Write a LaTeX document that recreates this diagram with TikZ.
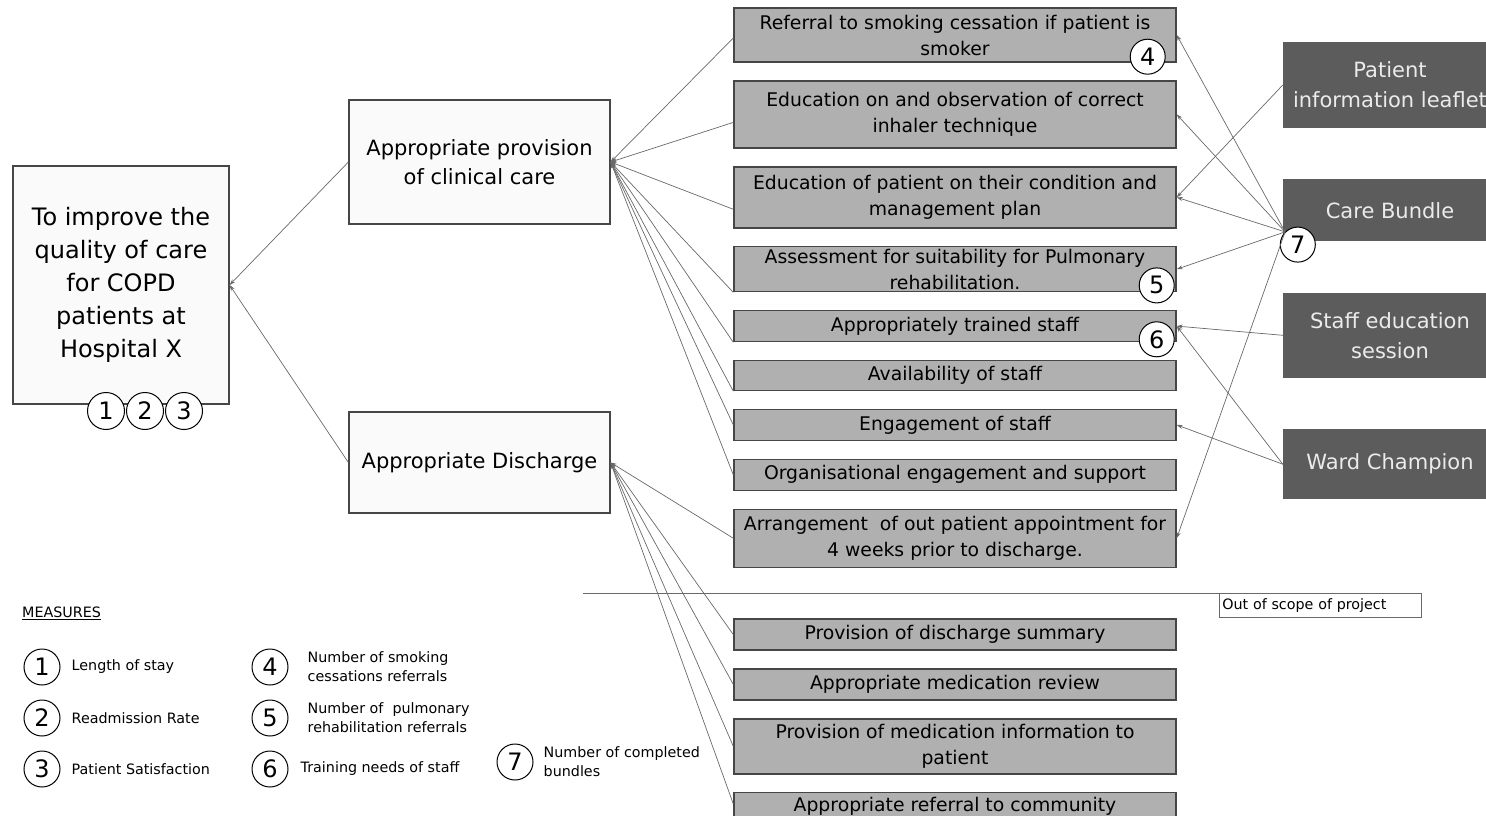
\documentclass[tikz,border=0pt]{standalone}
\usepackage{fontspec}
\setmainfont{DejaVu Sans}
\usetikzlibrary{arrows.meta,positioning}
\definecolor{boxgray}{RGB}{176,176,176}
\definecolor{darkbox}{RGB}{92,92,92}
\definecolor{edgegray}{RGB}{70,70,70}
\definecolor{linegray}{RGB}{105,105,105}
\definecolor{paper}{RGB}{250,250,250}

\begin{document}
\begin{tikzpicture}[x=1pt,y=-1pt,
        node distance=17.5pt,
        goalbox/.style={draw=edgegray,line width=1.2pt,fill=paper,align=center,inner sep=2pt},
        drvbox/.style={draw=edgegray,line width=1.2pt,fill=paper,minimum width=261pt,
                       align=center,font=\fontsize{21}{29}\selectfont},
        cbox/.style={draw=edgegray,line width=1.4pt,fill=boxgray,minimum width=442pt,
                     inner sep=0pt,align=center,font=\fontsize{18.8}{26}\selectfont},
        ibox/.style={fill=darkbox,text=white!92!black,minimum width=214pt,inner sep=0pt,
                     align=center,font=\fontsize{21}{30}\selectfont},
        num/.style={circle,draw=black,line width=1pt,fill=white,inner sep=0pt,
                    minimum size=35pt,font=\fontsize{24}{24}\selectfont},
        key/.style={inner sep=0pt,align=left,font=\fontsize{14.3}{19}\selectfont},
        arr/.style={-{Stealth[length=6pt,width=4pt]},draw=linegray,line width=0.7pt},
      ]
        \useasboundingbox (0,0) rectangle (1486,816);
        % aim and primary drivers
        \node[goalbox,minimum width=216pt,minimum height=238pt,
              font=\fontsize{24}{33}\selectfont](goal) at (121,285)
              {To improve the\\quality of care\\for COPD\\patients at\\Hospital X};
        \node[drvbox,minimum height=124pt](clin) at (479.5,162){Appropriate provision\\of clinical care};
        \node[drvbox,minimum height=101pt](dis) at (479.5,462.5){Appropriate Discharge};
        % secondary drivers
        \node[cbox,minimum height=54pt](ref) at (955,35){Referral to smoking cessation if patient is\\smoker};
        \node[cbox,minimum height=67pt,below=of ref](inh){Education on and observation of correct\\inhaler technique};
        \node[cbox,minimum height=61pt,below=of inh](pat){Education of patient on their condition and\\management plan};
        \node[cbox,minimum height=45pt,below=of pat](ass){Assessment for suitability for Pulmonary\\rehabilitation.};
        \node[cbox,minimum height=31pt,below=of ass](trn){Appropriately trained staff};
        \node[cbox,minimum height=30pt,below=of trn](avl){Availability of staff};
        \node[cbox,minimum height=31pt,below=of avl](eng){Engagement of staff};
        \node[cbox,minimum height=31pt,below=of eng](org){Organisational engagement and support};
        \node[cbox,minimum height=58pt,below=of org](appt){Arrangement\ \ of out patient appointment for\\4 weeks prior to discharge.};
        \node[cbox,minimum height=31pt](dsum) at (955,634.5){Provision of discharge summary};
        \node[cbox,minimum height=31pt,below=of dsum](medr){Appropriate medication review};
        \node[cbox,minimum height=55pt,below=of medr](medi){Provision of medication information to\\patient};
        \node[cbox,minimum height=28pt,below=of medi](comm){Appropriate referral to community};
        % change ideas
        \node[ibox,minimum height=86pt](leaf) at (1390,85){Patient\\information leaflet};
        \node[ibox,minimum height=62pt,below=51pt of leaf](cb){Care Bundle};
        \node[ibox,minimum height=85pt,below=51pt of cb](staff){Staff education\\session};
        \node[ibox,minimum height=70pt,below=51pt of staff](ward){Ward Champion};
        % scope line
        \coordinate (cut) at (583,593);
        \node[draw=linegray,line width=0.6pt,fill=white,anchor=north west,minimum height=24pt,
              inner xsep=3pt,inner ysep=0pt,text width=196pt,align=left,
              font=\fontsize{14.3}{19}\selectfont](oos) at (1219,593){Out of scope of project};
        \draw[draw=linegray,line width=0.6pt](cut)--(oos.north west);
        % connectors
        \foreach \b/\s in {ref/-3pt,inh/-8pt,pat/-12pt}
          \draw[arr]([yshift=\s]\b.west)--(clin.east);
        \foreach \b in {ass,trn,avl}
          \draw[arr](\b.south west)--(clin.east);
        \foreach \b in {eng,org}
          \draw[arr](\b.west)--(clin.east);
        \foreach \b in {appt,dsum,medr,medi}
          \draw[arr](\b.west)--(dis.east);
        \draw[arr]([yshift=-12pt]comm.north west)--(dis.east);
        \draw[arr](clin.west)--(goal.east);
        \draw[arr](dis.west)--(goal.east);
        % measure markers
        \node[num,minimum size=37pt](m1) at (106,411){1};
        \node[num,minimum size=37pt,right=1pt of m1](m2){2};
        \node[num,minimum size=37pt,right=1pt of m2](m3){3};
        \node[num](m4) at ([xshift=-29pt,yshift=6pt]ref.south east){4};
        \node[num](m5) at ([xshift=-20pt,yshift=7pt]ass.south east){5};
        \node[num](m6) at ([xshift=-20pt,yshift=3pt]trn.south east){6};
        \node[num](m7) at ([xshift=15pt,yshift=-3pt]cb.south west){7};
        \foreach \b in {ref,inh,pat,ass,appt}
          \draw[arr](m7.north west)--(\b.east);
        \draw[arr](leaf.west)--(pat.east);
        \draw[arr](staff.west)--(trn.east);
        \draw[arr](ward.west)--(trn.east);
        \draw[arr](ward.west)--(eng.east);
        % legend
        \node[key,anchor=west](meas) at (22,613){\underline{MEASURES}};
        \node[num,minimum size=36pt](k1) at (42,667){1};
        \node[num,minimum size=36pt,below=14pt of k1](k2){2};
        \node[num,minimum size=36pt,below=14pt of k2](k3){3};
        \node[num,minimum size=36pt](k4) at (270,667){4};
        \node[num,minimum size=36pt,below=14pt of k4](k5){5};
        \node[num,minimum size=36pt,below=14pt of k5](k6){6};
        \node[num,minimum size=36pt](k7) at (515,762){7};
        \node[key,right=11pt of k1](l1){Length of stay};
        \node[key,right=11pt of k2](l2){Readmission Rate};
        \node[key,right=11pt of k3](l3){Patient Satisfaction};
        \node[key,right=19pt of k4](l4){Number of smoking\\cessations referrals};
        \node[key,right=19pt of k5](l5){Number of\ \ pulmonary\\rehabilitation referrals};
        \node[key,right=12pt of k6](l6){Training needs of staff};
        \node[key,right=10pt of k7](l7){Number of completed\\bundles};
      \end{tikzpicture}
\end{document}
